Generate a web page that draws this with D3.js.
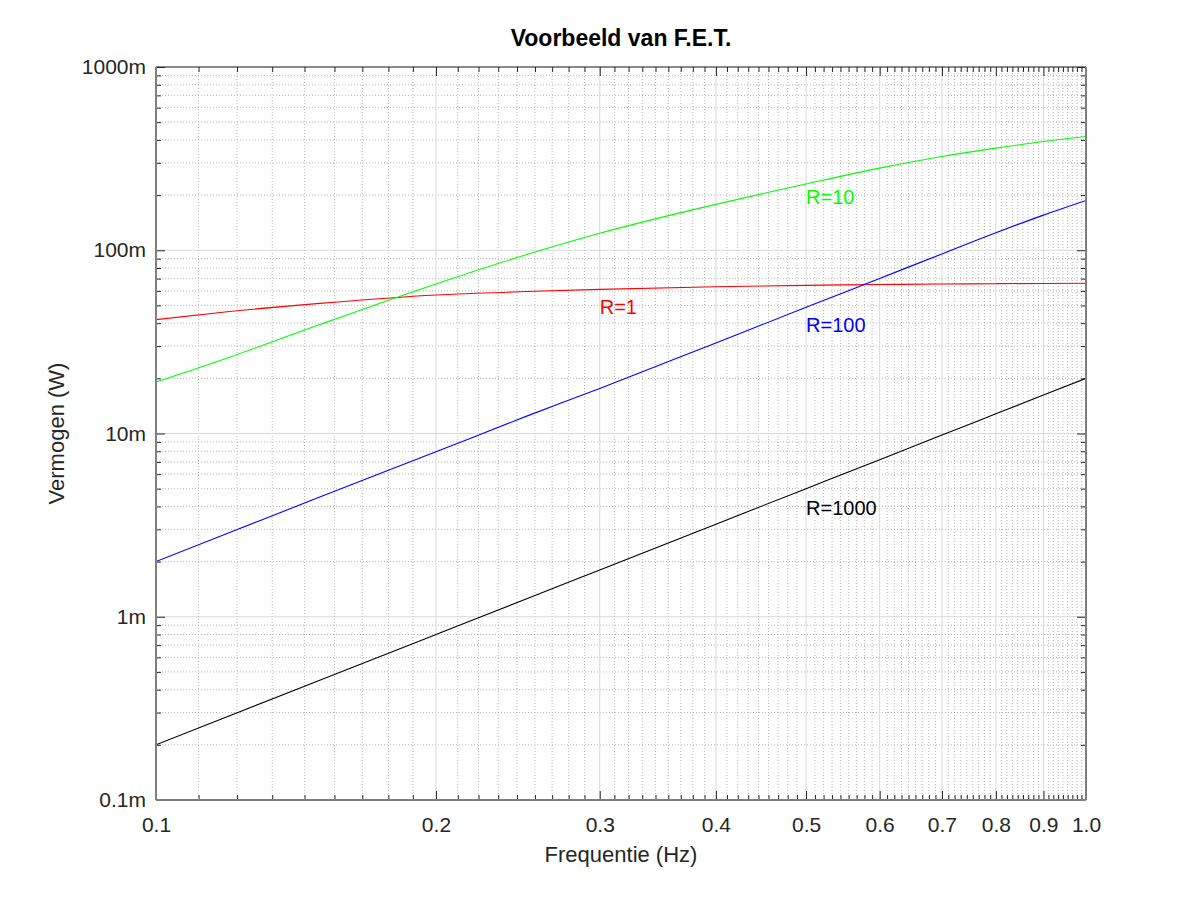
<!DOCTYPE html>
<html>
<head>
<meta charset="utf-8">
<script src="https://cdn.jsdelivr.net/npm/d3@7"></script>
<style>
  body { margin: 0; background: #fff; }
  text { font-family: "Liberation Sans", Arial, sans-serif; }
</style>
</head>
<body>
<svg id="chart" width="1200" height="900"></svg>
<script>
// frequencies (Hz) and power (W)
const freq  = [0.1, 0.12, 0.15, 0.2, 0.25, 0.3, 0.4, 0.5, 0.6, 0.7, 0.8, 0.9, 1.0];
const pR1    = [0.0418, 0.0463, 0.0513, 0.0570, 0.0595, 0.0612, 0.0632, 0.0643, 0.0650, 0.0654, 0.0657, 0.0659, 0.0660];
const pR10   = [0.0191, 0.0261, 0.0393, 0.0655, 0.0945, 0.1238, 0.178, 0.230, 0.2806, 0.3247, 0.3608, 0.392, 0.4176];
const pR100  = [0.0020, 0.00288, 0.0045, 0.00794, 0.0124, 0.0176, 0.0312, 0.0488, 0.0702, 0.0955, 0.1245, 0.1555, 0.187];
const pR1000 = [0.0002, 0.000288, 0.00045, 0.0008, 0.00125, 0.0018, 0.0032, 0.0050, 0.0072, 0.0098, 0.0128, 0.0162, 0.0200];

const seriesNames  = ['R=1', 'R=10', 'R=100', 'R=1000'];
const seriesColors = ['#ff0000', '#00ff00', '#0000ff', '#000000'];
const labelF = [0.3, 0.5, 0.5, 0.5];
const labelP = [0.05, 0.2, 0.04, 0.004];

const xTicks = [0.1, 0.2, 0.3, 0.4, 0.5, 0.6, 0.7, 0.8, 0.9, 1.0];
const xTickLabels = ['0.1', '0.2', '0.3', '0.4', '0.5', '0.6', '0.7', '0.8', '0.9', '1.0'];
const yTicks = [1e-4, 1e-3, 1e-2, 1e-1, 1];
const yTickLabels = ['0.1m', '1m', '10m', '100m', '1000m'];

const series = [pR1, pR10, pR100, pR1000].map((vals, i) => ({
    name: seriesNames[i],
    color: seriesColors[i],
    values: freq.map((f, j) => ({f: f, p: vals[j]}))
}));

// minor ticks: 8 per 0.1 step on x, 2..9 per decade on y
const xMinor = [];
xTicks.slice(0, -1).forEach(t => {
    for (let k = 1; k <= 8; k++) xMinor.push(t + k * 0.1 / 9);
});
const yMinor = [];
yTicks.slice(0, -1).forEach(t => {
    for (let k = 2; k <= 9; k++) yMinor.push(t * k);
});

const L = 156, R = 1086, T = 67, B = 800;

const svg = d3.select('#chart');

const x = d3.scaleLog().domain([0.1, 1]).range([L, R]);
const y = d3.scaleLog().domain([1e-4, 1]).range([B, T]);

// grid
const grid = svg.append('g');
grid.selectAll('.xmin').data(xMinor).enter().append('line')
    .attr('x1', d => x(d)).attr('x2', d => x(d))
    .attr('y1', T).attr('y2', B)
    .attr('stroke', '#b8b8b8').attr('stroke-dasharray', '1,2');
grid.selectAll('.ymin').data(yMinor).enter().append('line')
    .attr('y1', d => y(d)).attr('y2', d => y(d))
    .attr('x1', L).attr('x2', R)
    .attr('stroke', '#b8b8b8').attr('stroke-dasharray', '1,2');
grid.selectAll('.xmaj').data(xTicks).enter().append('line')
    .attr('x1', d => x(d)).attr('x2', d => x(d))
    .attr('y1', T).attr('y2', B)
    .attr('stroke', '#d9d9d9');
grid.selectAll('.ymaj').data(yTicks).enter().append('line')
    .attr('y1', d => y(d)).attr('y2', d => y(d))
    .attr('x1', L).attr('x2', R)
    .attr('stroke', '#d9d9d9');

// curves
svg.append('clipPath').attr('id', 'clip')
    .append('rect').attr('x', L).attr('y', T).attr('width', R - L).attr('height', B - T);

const line = d3.line()
    .x(d => x(d.f))
    .y(d => y(d.p))
    .curve(d3.curveMonotoneX);

svg.append('g').attr('clip-path', 'url(#clip)')
    .selectAll('path').data(series).enter().append('path')
    .attr('d', d => line(d.values))
    .attr('fill', 'none')
    .attr('stroke', d => d.color)
    .attr('stroke-width', 1.1);

// curve labels
svg.selectAll('.lbl').data(series).enter().append('text')
    .attr('x', (d, i) => x(labelF[i]))
    .attr('y', (d, i) => y(labelP[i]))
    .attr('dy', '0.45em')
    .attr('font-size', 20)
    .attr('fill', d => d.color)
    .text(d => d.name);

// axes
const tickCol = '#262626';
function styleAxis(g) {
    g.select('.domain').remove();
    g.selectAll('line').attr('stroke', tickCol);
    g.selectAll('text').attr('fill', '#262626').attr('font-size', 21)
        .attr('font-family', '"Liberation Sans", Arial, sans-serif');
}

svg.append('g').attr('transform', `translate(0,${B})`)
    .call(d3.axisBottom(x).tickValues(xMinor).tickSize(-5).tickFormat(''))
    .call(styleAxis);
svg.append('g').attr('transform', `translate(0,${B})`)
    .call(d3.axisBottom(x).tickValues(xTicks).tickSize(-9).tickPadding(17)
        .tickFormat((d, i) => xTickLabels[i]))
    .call(styleAxis);
svg.append('g').attr('transform', `translate(0,${T})`)
    .call(d3.axisTop(x).tickValues(xMinor).tickSize(-5).tickFormat(''))
    .call(styleAxis);
svg.append('g').attr('transform', `translate(0,${T})`)
    .call(d3.axisTop(x).tickValues(xTicks).tickSize(-9).tickFormat(''))
    .call(styleAxis);

svg.append('g').attr('transform', `translate(${L},0)`)
    .call(d3.axisLeft(y).tickValues(yMinor).tickSize(-5).tickFormat(''))
    .call(styleAxis);
svg.append('g').attr('transform', `translate(${L},0)`)
    .call(d3.axisLeft(y).tickValues(yTicks).tickSize(-9).tickPadding(10)
        .tickFormat((d, i) => yTickLabels[i]))
    .call(styleAxis);
svg.append('g').attr('transform', `translate(${R},0)`)
    .call(d3.axisRight(y).tickValues(yMinor).tickSize(-5).tickFormat(''))
    .call(styleAxis);
svg.append('g').attr('transform', `translate(${R},0)`)
    .call(d3.axisRight(y).tickValues(yTicks).tickSize(-9).tickFormat(''))
    .call(styleAxis);

// box
svg.append('line').attr('x1', L).attr('x2', R).attr('y1', T).attr('y2', T)
    .attr('stroke', '#262626').attr('stroke-width', 1);
svg.append('line').attr('x1', L).attr('x2', R).attr('y1', B).attr('y2', B)
    .attr('stroke', '#7f7f7f').attr('stroke-width', 2);
svg.append('line').attr('x1', L).attr('x2', L).attr('y1', T).attr('y2', B)
    .attr('stroke', '#7f7f7f').attr('stroke-width', 2);
svg.append('line').attr('x1', R).attr('x2', R).attr('y1', T).attr('y2', B)
    .attr('stroke', '#7f7f7f').attr('stroke-width', 2);

// titles
svg.append('text')
    .attr('x', (L + R) / 2).attr('y', 46)
    .attr('text-anchor', 'middle')
    .attr('font-size', 23).attr('font-weight', 'bold')
    .text('Voorbeeld van F.E.T.');

svg.append('text')
    .attr('x', (L + R) / 2).attr('y', 862)
    .attr('text-anchor', 'middle')
    .attr('font-size', 22).attr('fill', '#262626')
    .text('Frequentie (Hz)');

svg.append('text')
    .attr('transform', `translate(64,${(T + B) / 2}) rotate(-90)`)
    .attr('text-anchor', 'middle')
    .attr('font-size', 22).attr('fill', '#262626')
    .text('Vermogen (W)');
</script>
</body>
</html>
